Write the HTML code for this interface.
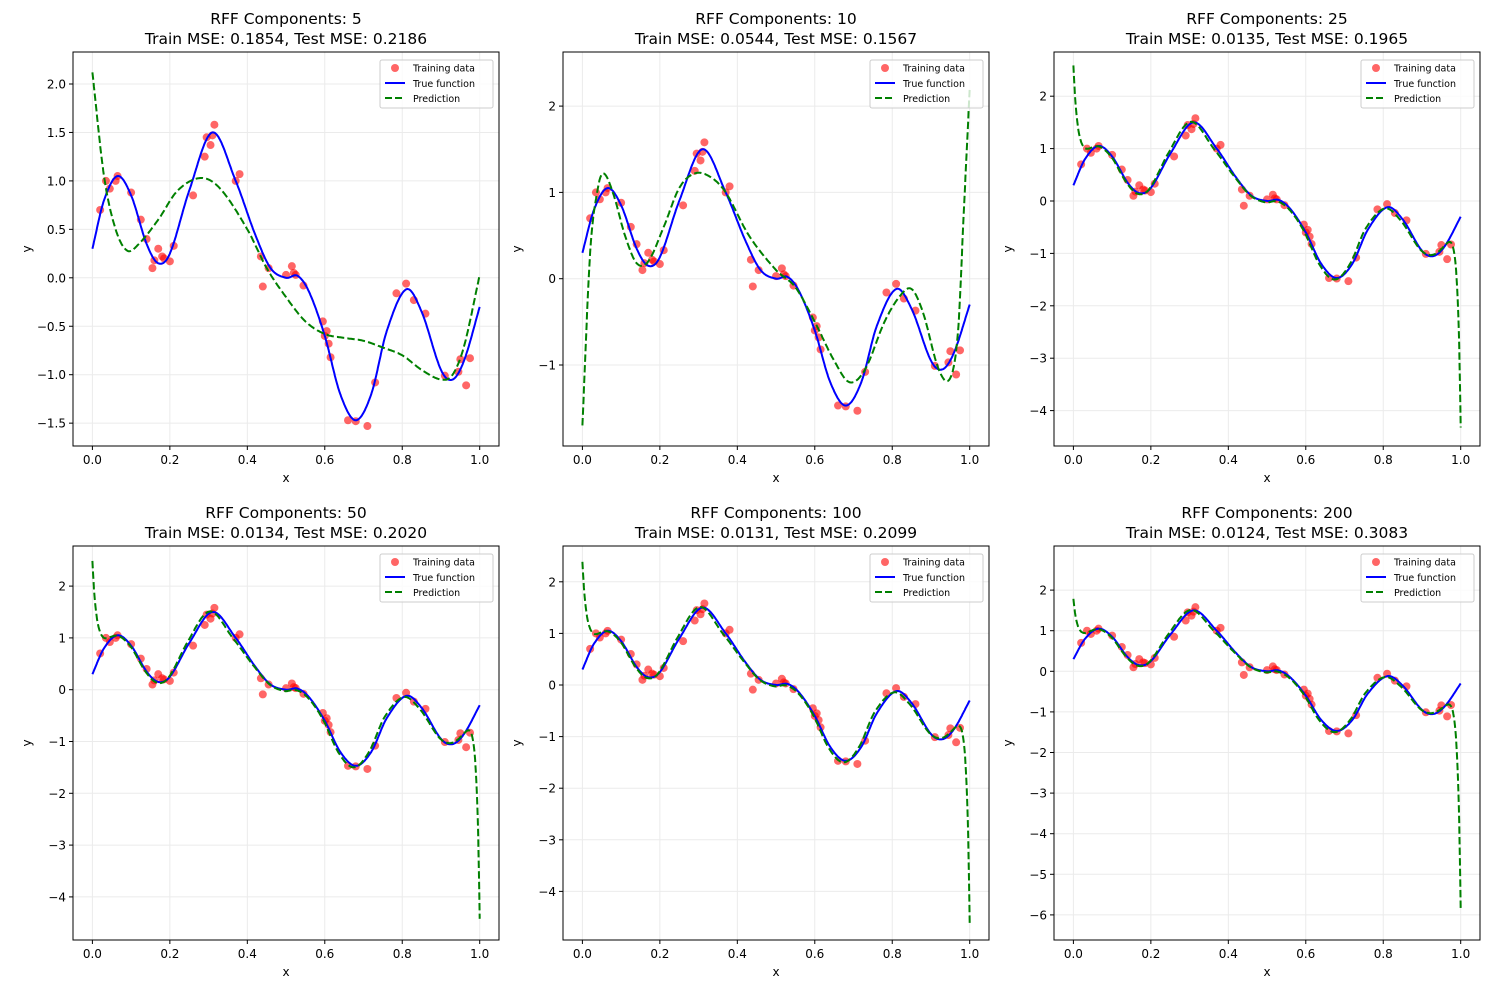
<!DOCTYPE html><html><head><meta charset="utf-8"><style>
body{margin:0;background:#fff;font-family:"DejaVu Sans","Liberation Sans",sans-serif}
svg text{font-family:"DejaVu Sans","Liberation Sans",sans-serif}
</style></head><body>
<svg id="s" width="1489" height="990" xmlns="http://www.w3.org/2000/svg"></svg>
<script>
function cr(pts){return function(x){let i=0;while(i<pts.length-2&&pts[i+1][0]<x)i++;
let p1=pts[i],p2=pts[i+1],p0=pts[Math.max(0,i-1)],p3=pts[Math.min(pts.length-1,i+2)];
let t=(x-p1[0])/(p2[0]-p1[0]);t=Math.max(0,Math.min(1,t));
let m1=(p2[1]-p0[1])/(p2[0]-p0[0]||1)*(p2[0]-p1[0]),m2=(p3[1]-p1[1])/(p3[0]-p1[0]||1)*(p2[0]-p1[0]);
let t2=t*t,t3=t2*t;return (2*t3-3*t2+1)*p1[1]+(t3-2*t2+t)*m1+(-2*t3+3*t2)*p2[1]+(t3-t2)*m2;}}
const tru=cr([[0,0.3],[0.03,0.8],[0.065,1.05],[0.1,0.85],[0.14,0.35],[0.17,0.15],[0.2,0.25],[0.25,0.9],[0.31,1.5],[0.37,1.0],[0.42,0.45],[0.46,0.1],[0.5,0.0],[0.53,0.02],[0.56,-0.15],[0.6,-0.6],[0.64,-1.2],[0.68,-1.47],[0.72,-1.2],[0.76,-0.55],[0.81,-0.12],[0.85,-0.35],[0.9,-0.95],[0.93,-1.05],[0.96,-0.85],[1.0,-0.3]]);
const data=[[0.02,0.7],[0.035,1.0],[0.045,0.92],[0.06,1.0],[0.065,1.05],[0.1,0.88],[0.125,0.6],[0.14,0.4],[0.155,0.1],[0.16,0.18],[0.17,0.3],[0.18,0.22],[0.185,0.2],[0.2,0.17],[0.21,0.33],[0.26,0.85],[0.29,1.25],[0.295,1.45],[0.305,1.37],[0.31,1.47],[0.315,1.58],[0.37,1.0],[0.38,1.07],[0.435,0.22],[0.44,-0.09],[0.455,0.1],[0.5,0.03],[0.515,0.12],[0.52,0.05],[0.525,0.03],[0.545,-0.08],[0.595,-0.45],[0.6,-0.6],[0.605,-0.55],[0.61,-0.68],[0.615,-0.82],[0.66,-1.47],[0.68,-1.48],[0.71,-1.53],[0.73,-1.08],[0.785,-0.16],[0.81,-0.06],[0.83,-0.23],[0.86,-0.37],[0.91,-1.01],[0.945,-0.97],[0.95,-0.84],[0.965,-1.11],[0.975,-0.83]];
const p1=cr([[0,2.12],[0.03,1.05],[0.06,0.5],[0.09,0.28],[0.12,0.35],[0.17,0.6],[0.22,0.9],[0.28,1.03],[0.33,0.92],[0.4,0.5],[0.45,0.1],[0.5,-0.2],[0.55,-0.45],[0.6,-0.58],[0.65,-0.62],[0.7,-0.65],[0.75,-0.72],[0.8,-0.8],[0.85,-0.95],[0.9,-1.05],[0.93,-1.0],[0.96,-0.7],[1.0,0.03]]);
const p2=cr([[0,-1.7],[0.02,0.3],[0.04,1.05],[0.055,1.22],[0.08,0.98],[0.11,0.5],[0.14,0.18],[0.17,0.2],[0.21,0.6],[0.25,1.05],[0.29,1.22],[0.33,1.18],[0.37,1.0],[0.43,0.5],[0.5,0.1],[0.55,-0.1],[0.6,-0.5],[0.65,-0.95],[0.69,-1.2],[0.73,-1.05],[0.78,-0.5],[0.82,-0.2],[0.85,-0.12],[0.88,-0.4],[0.92,-1.05],[0.95,-1.15],[0.97,-0.6],[0.985,0.8],[1.0,2.2]]);
function mk(a,b){return x=>tru(x+0.005)*1.0-0.03*Math.sin(40*x)+(a-0.3)*Math.exp(-x/0.012)+(b+0.3)*Math.exp(-(1-x)/0.008);}
const P=[
{x:73,y:52,n:5,tr:"0.1854",te:"0.2186",y0:277.8,s:96.9,ticks:[2,1.5,1,0.5,0,-0.5,-1,-1.5],f:p1,dec:1},
{x:563,y:52,n:10,tr:"0.0544",te:"0.1567",y0:278.7,s:86.3,ticks:[2,1,0,-1],f:p2},
{x:1054,y:52,n:25,tr:"0.0135",te:"0.1965",y0:201,s:52.4,ticks:[2,1,0,-1,-2,-3,-4],f:mk(2.5,-4.3)},
{x:73,y:546,n:50,tr:"0.0134",te:"0.2020",y0:689.7,s:51.8,ticks:[2,1,0,-1,-2,-3,-4],f:mk(2.4,-4.4)},
{x:563,y:546,n:100,tr:"0.0131",te:"0.2099",y0:685,s:51.6,ticks:[2,1,0,-1,-2,-3,-4],f:mk(2.3,-4.6)},
{x:1054,y:546,n:200,tr:"0.0124",te:"0.3083",y0:671.3,s:40.6,ticks:[2,1,0,-1,-2,-3,-4,-5,-6],f:mk(1.7,-5.85)}];
let h="";const W=426,H=394;
for(const p of P){const X=v=>p.x+19.4+v*387.3,Y=v=>p.y0-v*p.s;
h+=`<clipPath id="c${p.n}"><rect x="${p.x}" y="${p.y}" width="${W}" height="${H}"/></clipPath>`;
for(let t=0;t<=1.001;t+=0.2){let xx=X(t);h+=`<line x1="${xx}" x2="${xx}" y1="${p.y}" y2="${p.y+H}" stroke="#ebebeb"/><line x1="${xx}" x2="${xx}" y1="${p.y+H}" y2="${p.y+H+4}" stroke="#000"/><text x="${xx}" y="${p.y+H+18}" font-size="12" text-anchor="middle">${t.toFixed(1)}</text>`;}
for(const t of p.ticks){let yy=Y(t);h+=`<line x1="${p.x}" x2="${p.x+W}" y1="${yy}" y2="${yy}" stroke="#ebebeb"/><line x1="${p.x-4}" x2="${p.x}" y1="${yy}" y2="${yy}" stroke="#000"/><text x="${p.x-7}" y="${yy+4.5}" font-size="12" text-anchor="end">${p.dec?t.toFixed(1).replace("-","−"):String(t).replace("-","−")}</text>`;}
h+=`<text x="${p.x+W/2}" y="${p.y+H+36}" font-size="12" text-anchor="middle">x</text>`;
h+=`<text transform="translate(${p.x-42},${p.y+H/2}) rotate(-90)" font-size="12" text-anchor="middle">y</text>`;
h+=`<text x="${p.x+W/2}" y="${p.y-28}" font-size="15.5" text-anchor="middle">RFF Components: ${p.n}</text><text x="${p.x+W/2}" y="${p.y-8}" font-size="15.5" text-anchor="middle">Train MSE: ${p.tr}, Test MSE: ${p.te}</text>`;
h+=`<g clip-path="url(#c${p.n})">`;
for(const d of data)h+=`<circle cx="${X(d[0])}" cy="${Y(d[1])}" r="4" fill="#ff0000" fill-opacity="0.6"/>`;
let a="",b="";for(let i=0;i<=1000;i++){let x=i/1000;a+=(i?"L":"M")+X(x).toFixed(1)+","+Y(tru(x)).toFixed(1);b+=(i?"L":"M")+X(x).toFixed(1)+","+Y(p.f(x)).toFixed(1);}
h+=`<path d="${a}" fill="none" stroke="#0000ff" stroke-width="2"/><path d="${b}" fill="none" stroke="#008000" stroke-width="2" stroke-dasharray="7.4,3.2"/></g>`;
h+=`<rect x="${p.x}" y="${p.y}" width="${W}" height="${H}" fill="none" stroke="#000"/>`;
let lx=p.x+W-119,ly=p.y+8;
h+=`<rect x="${lx}" y="${ly}" width="113" height="48" rx="2" fill="#fff" fill-opacity="0.8" stroke="#ccc"/>`;
h+=`<circle cx="${lx+15}" cy="${ly+8}" r="4" fill="#ff0000" fill-opacity="0.6"/><text x="${lx+33}" y="${ly+11.5}" font-size="9.5">Training data</text>`;
h+=`<line x1="${lx+5}" x2="${lx+25}" y1="${ly+23}" y2="${ly+23}" stroke="#0000ff" stroke-width="2"/><text x="${lx+33}" y="${ly+27}" font-size="9.5">True function</text>`;
h+=`<line x1="${lx+5}" x2="${lx+25}" y1="${ly+38}" y2="${ly+38}" stroke="#008000" stroke-width="2" stroke-dasharray="7,3"/><text x="${lx+33}" y="${ly+42}" font-size="9.5">Prediction</text>`;}
document.getElementById("s").innerHTML=h;
</script></body></html>
